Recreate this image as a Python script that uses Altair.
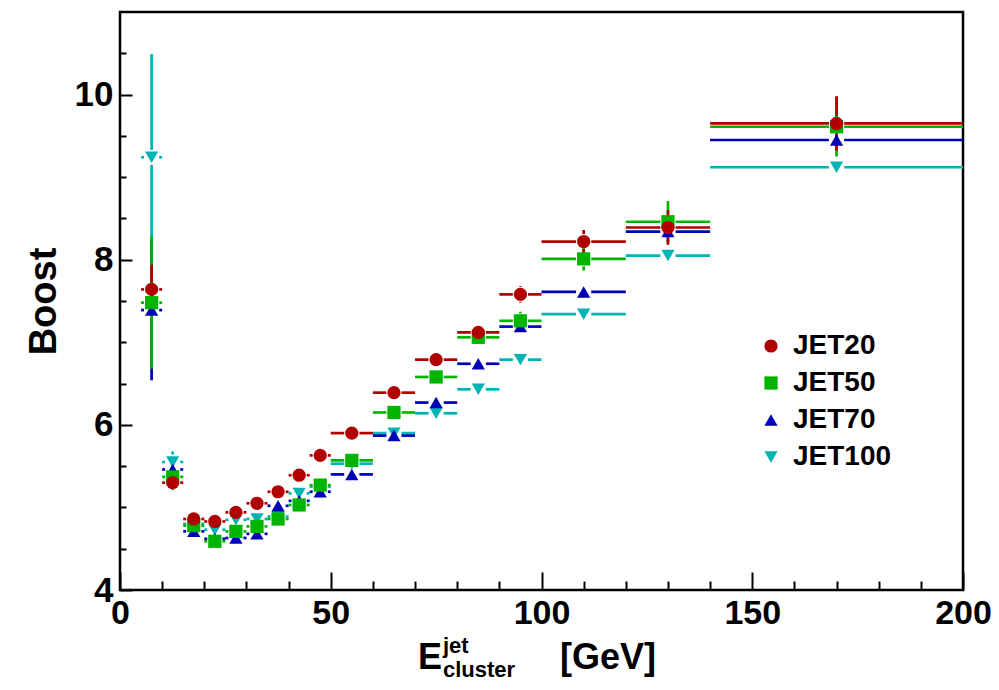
import altair as alt
import pandas as pd

# ---------------- data ----------------
bin_center = [7.5, 12.5, 17.5, 22.5, 27.5, 32.5, 37.5, 42.5, 47.5, 55, 65, 75, 85, 95, 110, 130, 170]
bin_low = [5, 10, 15, 20, 25, 30, 35, 40, 45, 50, 60, 70, 80, 90, 100, 120, 140]
bin_high = [10, 15, 20, 25, 30, 35, 40, 45, 50, 60, 70, 80, 90, 100, 120, 140, 200]

series_names = ["JET20", "JET50", "JET70", "JET100"]
series_colors = ["#b00000", "#00b400", "#0000b4", "#00b4b4"]
series_shapes = ["circle", "square", "triangle-up", "triangle-down"]

jet20 = [7.64, 5.30, 4.86, 4.83, 4.94, 5.05, 5.19, 5.39, 5.63, 5.90, 6.39, 6.79, 7.12, 7.58, 8.22, 8.39, 9.65]
jet20_err = [0.30, 0.08, 0.04, 0.04, 0.04, 0.04, 0.04, 0.04, 0.05, 0.05, 0.05, 0.05, 0.06, 0.10, 0.14, 0.21, 0.33]

jet50 = [7.48, 5.37, 4.78, 4.59, 4.71, 4.77, 4.86, 5.03, 5.27, 5.57, 6.15, 6.58, 7.06, 7.26, 8.01, 8.46, 9.61]
jet50_err = [0.80, 0.16, 0.05, 0.05, 0.05, 0.05, 0.05, 0.06, 0.06, 0.06, 0.06, 0.07, 0.08, 0.11, 0.14, 0.25, 0.36]

jet70 = [7.39, 5.46, 4.71, 4.62, 4.63, 4.68, 5.02, 5.08, 5.19, 5.40, 5.87, 6.27, 6.74, 7.19, 7.61, 8.34, 9.45]
jet70_err = [0.85, 0.10, 0.05, 0.05, 0.05, 0.05, 0.05, 0.05, 0.05, 0.05, 0.05, 0.06, 0.07, 0.08, 0.08, 0.12, 0.10]

jet100 = [9.24, 5.55, 4.80, 4.73, 4.85, 4.86, 4.89, 5.17, 5.25, 5.53, 5.90, 6.14, 6.43, 6.79, 7.34, 8.05, 9.12]
jet100_err = [1.25, 0.13, 0.05, 0.05, 0.05, 0.05, 0.05, 0.05, 0.05, 0.05, 0.05, 0.06, 0.07, 0.08, 0.08, 0.08, 0.08]

x_major_ticks = [0, 50, 100, 150, 200]
x_minor_ticks = [10, 20, 30, 40, 60, 70, 80, 90, 110, 120, 130, 140, 160, 170, 180, 190]
y_major_ticks = [4, 6, 8, 10]
y_minor_ticks = [4.5, 5, 5.5, 6.5, 7, 7.5, 8.5, 9, 9.5, 10.5]

# ---------------- build tables ----------------
FONT = "Liberation Sans"
GAP_X = 1.8    # gap around marker (x units)
GAP_Y = 0.09   # gap around marker (y units)

values = {
    "JET20": (jet20, jet20_err),
    "JET50": (jet50, jet50_err),
    "JET70": (jet70, jet70_err),
    "JET100": (jet100, jet100_err),
}
pts, hseg, vseg = [], [], []
for name, col in zip(reversed(series_names), reversed(series_colors)):
    ys, es = values[name]
    for xc, lo, hi, y, e in zip(bin_center, bin_low, bin_high, ys, es):
        pts.append({"series": name, "x": xc, "y": y})
        if xc - GAP_X > lo:
            hseg.append({"col": col, "x1": lo, "x2": xc - GAP_X, "y": y})
        if xc + GAP_X < hi:
            hseg.append({"col": col, "x1": xc + GAP_X, "x2": hi, "y": y})
        if e > GAP_Y:
            vseg.append({"col": col, "x": xc, "y1": y + GAP_Y, "y2": y + e})
            vseg.append({"col": col, "x": xc, "y1": y - e, "y2": y - GAP_Y})

df_pts = pd.DataFrame(pts)
df_h = pd.DataFrame(hseg)
df_v = pd.DataFrame(vseg)

xscale = alt.Scale(domain=[0, 200], nice=False, zero=False)
yscale = alt.Scale(domain=[4, 11], nice=False, zero=False)

x_major = alt.Axis(values=x_major_ticks, orient="bottom", tickSize=18, offset=-18, domain=False, grid=False,
                   labelFont=FONT, labelFontSize=34, labelFontWeight="bold", labelColor="black",
                   labelPadding=6, labelFlush=False, tickColor="black", tickWidth=2, title=None, format="d")
x_minor = alt.Axis(values=x_minor_ticks, orient="bottom", tickSize=9, offset=-9, domain=False, grid=False,
                   labels=False, tickColor="black", tickWidth=2, title=None)
y_major = alt.Axis(values=y_major_ticks, orient="left", tickSize=12, offset=-12, domain=False, grid=False,
                   labelFont=FONT, labelFontSize=35, labelFontWeight="bold", labelColor="black",
                   labelPadding=7, tickColor="black", tickWidth=2, format="d",
                   title="Boost", titleFont=FONT, titleFontSize=38, titleFontWeight="bold",
                   titleColor="black", titleAngle=270, titleX=-77, titleY=289,
                   titleAlign="center", titleBaseline="alphabetic")
y_minor = alt.Axis(values=y_minor_ticks, orient="left", tickSize=6, offset=-6, domain=False, grid=False,
                   labels=False, tickColor="black", tickWidth=2, title=None)

leg = alt.Legend(orient="none", legendX=637, legendY=320, title=None, labelFont=FONT,
                 labelFontSize=28, labelFontWeight="bold", labelColor="black", symbolSize=175,
                 symbolStrokeWidth=0, rowPadding=9, labelOffset=8, padding=0)

hrules = alt.Chart(df_h).mark_rule(strokeWidth=2.7).encode(
    x=alt.X("x1:Q", scale=xscale, axis=x_minor),
    x2="x2:Q",
    y=alt.Y("y:Q", scale=yscale, axis=y_minor),
    color=alt.Color("col:N", scale=None),
)
vrules = alt.Chart(df_v).mark_rule(strokeWidth=2.7).encode(
    x=alt.X("x:Q", scale=xscale, axis=None),
    y=alt.Y("y1:Q", scale=yscale, axis=None),
    y2="y2:Q",
    color=alt.Color("col:N", scale=None),
)
points = alt.Chart(df_pts).mark_point(filled=True, opacity=1, size=175, strokeWidth=0).encode(
    x=alt.X("x:Q", scale=xscale, axis=x_major),
    y=alt.Y("y:Q", scale=yscale, axis=y_major),
    color=alt.Color("series:N", scale=alt.Scale(domain=series_names, range=series_colors), legend=leg),
    shape=alt.Shape("series:N", scale=alt.Scale(domain=series_names, range=series_shapes), legend=leg),
)

dummy = pd.DataFrame({"k": [0]})


def label(txt, size, xpix, ypix):
    return alt.Chart(dummy).mark_text(text=txt, font=FONT, fontSize=size, fontWeight="bold",
                                      align="left", baseline="alphabetic", color="black").encode(
        x=alt.value(xpix), y=alt.value(ypix))


title_parts = [
    label("E", 36, 298, 657),
    label("jet", 22, 323, 641),
    label("cluster", 22, 323, 665),
    label("[GeV]", 36, 440, 657),
]

chart = alt.layer(hrules, vrules, points, *title_parts).resolve_axis(
    x="independent", y="independent"
).properties(
    width=843, height=578,
    autosize=alt.AutoSizeParams(type="none"),
    padding={"left": 112, "top": 4, "right": 28, "bottom": 92},
).configure_view(stroke="black", strokeWidth=2.5)

chart.save("out.html", embed_options={"renderer": "svg", "actions": False})
